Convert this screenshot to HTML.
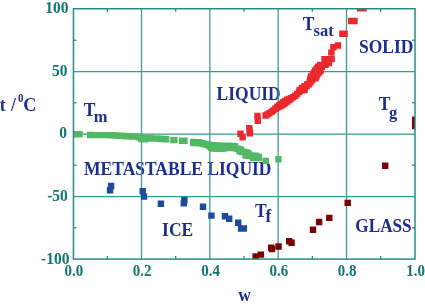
<!DOCTYPE html>
<html><head><meta charset="utf-8"><style>
html,body{margin:0;padding:0;background:#fff;width:425px;height:305px;overflow:hidden}
svg{display:block}
</style></head><body>
<svg width="425" height="305" viewBox="0 0 425 305"><defs><clipPath id="c"><rect x="73.45" y="8.75" width="341.55" height="250.35"/></clipPath></defs><g opacity="0.999"><text transform="translate(83.80,116.20) scale(1,1.07)" font-family="Liberation Serif, serif" font-weight="bold" font-size="17.5" fill="#1c2d90" text-anchor="start">T</text><text transform="translate(93.70,121.60) scale(1,1.07)" font-family="Liberation Serif, serif" font-weight="bold" font-size="16.5" fill="#1c2d90" text-anchor="start">m</text><text transform="translate(216.60,99.50) scale(1,1.07)" font-family="Liberation Serif, serif" font-weight="bold" font-size="17.5" fill="#1c2d90" text-anchor="start">LIQUID</text><text transform="translate(302.70,29.80) scale(1,1.07)" font-family="Liberation Serif, serif" font-weight="bold" font-size="17.5" fill="#1c2d90" text-anchor="start">T</text><text transform="translate(313.50,35.50) scale(1,1.07)" font-family="Liberation Serif, serif" font-weight="bold" font-size="16.5" fill="#1c2d90" text-anchor="start">sat</text><text transform="translate(358.90,53.10) scale(1,1.07)" font-family="Liberation Serif, serif" font-weight="bold" font-size="17.5" fill="#1c2d90" text-anchor="start">SOLID</text><text transform="translate(378.70,109.70) scale(1,1.07)" font-family="Liberation Serif, serif" font-weight="bold" font-size="17.5" fill="#1c2d90" text-anchor="start">T</text><text transform="translate(388.90,117.80) scale(1,1.07)" font-family="Liberation Serif, serif" font-weight="bold" font-size="16.5" fill="#1c2d90" text-anchor="start">g</text><text transform="translate(84.10,175.40) scale(1,1.07)" font-family="Liberation Serif, serif" font-weight="bold" font-size="17.5" fill="#1c2d90" text-anchor="start">METASTABLE LIQUID</text><text transform="translate(162.10,236.00) scale(1,1.07)" font-family="Liberation Serif, serif" font-weight="bold" font-size="17.5" fill="#1c2d90" text-anchor="start">ICE</text><text transform="translate(254.90,216.50) scale(1,1.07)" font-family="Liberation Serif, serif" font-weight="bold" font-size="17.5" fill="#1c2d90" text-anchor="start">T</text><text transform="translate(265.50,221.60) scale(1,1.07)" font-family="Liberation Serif, serif" font-weight="bold" font-size="17.5" fill="#1c2d90" text-anchor="start">f</text><text transform="translate(355.30,232.10) scale(1,1.07)" font-family="Liberation Serif, serif" font-weight="bold" font-size="17.2" fill="#1c2d90" text-anchor="start">GLASS</text><text transform="translate(238.20,300.50) scale(1,1.07)" font-family="Liberation Serif, serif" font-weight="bold" font-size="17.5" fill="#1c2d90" text-anchor="start">w</text><text transform="translate(-0.20,111.20) scale(1,1.07)" font-family="Liberation Serif, serif" font-weight="bold" font-size="17.5" fill="#1c2d90" text-anchor="start">t</text><text transform="translate(10.90,111.20) scale(1,1.07)" font-family="Liberation Serif, serif" font-weight="bold" font-size="17.5" fill="#1c2d90" text-anchor="start">/</text><text transform="translate(18.10,102.30) scale(1,1.07)" font-family="Liberation Serif, serif" font-weight="bold" font-size="11" fill="#1c2d90" text-anchor="start">0</text><text transform="translate(23.30,111.40) scale(1,1.07)" font-family="Liberation Serif, serif" font-weight="bold" font-size="18.2" fill="#1c2d90" text-anchor="start">C</text></g><g stroke="#3a9894" stroke-width="1.25"><line x1="141.50" y1="8.75" x2="141.50" y2="259.10"/><line x1="209.84" y1="8.75" x2="209.84" y2="259.10"/><line x1="278.17" y1="8.75" x2="278.17" y2="259.10"/><line x1="346.51" y1="8.75" x2="346.51" y2="259.10"/><line x1="73.45" y1="71.50" x2="415.00" y2="71.50"/><line x1="73.45" y1="134.00" x2="415.00" y2="134.00"/><line x1="73.45" y1="196.50" x2="415.00" y2="196.50"/></g><g clip-path="url(#c)"><path fill="#52b863" d="M73.40 131.00h6.4v6.4h-6.4zM76.30 131.00h6.4v6.4h-6.4zM87.00 131.80h6.4v6.4h-6.4zM87.00 131.80h6.4v6.4h-6.4zM88.49 131.85h6.4v6.4h-6.4zM88.49 131.85h6.4v6.4h-6.4zM89.98 131.89h6.4v6.4h-6.4zM89.98 131.89h6.4v6.4h-6.4zM91.47 131.90h6.4v6.4h-6.4zM91.47 131.90h6.4v6.4h-6.4zM92.96 131.90h6.4v6.4h-6.4zM92.96 131.90h6.4v6.4h-6.4zM94.45 131.91h6.4v6.4h-6.4zM94.45 131.91h6.4v6.4h-6.4zM95.94 131.92h6.4v6.4h-6.4zM95.94 131.92h6.4v6.4h-6.4zM97.43 131.93h6.4v6.4h-6.4zM97.43 131.93h6.4v6.4h-6.4zM98.92 131.94h6.4v6.4h-6.4zM98.92 131.94h6.4v6.4h-6.4zM100.41 131.95h6.4v6.4h-6.4zM100.41 131.95h6.4v6.4h-6.4zM101.90 131.96h6.4v6.4h-6.4zM101.90 131.96h6.4v6.4h-6.4zM103.39 131.97h6.4v6.4h-6.4zM103.39 131.97h6.4v6.4h-6.4zM104.88 131.89h6.4v6.4h-6.4zM104.88 131.89h6.4v6.4h-6.4zM106.37 131.89h6.4v6.4h-6.4zM106.37 131.89h6.4v6.4h-6.4zM107.86 132.00h6.4v6.4h-6.4zM107.86 132.00h6.4v6.4h-6.4zM109.35 132.11h6.4v6.4h-6.4zM109.35 132.11h6.4v6.4h-6.4zM110.84 132.20h6.4v6.4h-6.4zM110.84 132.20h6.4v6.4h-6.4zM112.33 132.26h6.4v6.4h-6.4zM112.33 132.26h6.4v6.4h-6.4zM113.82 132.32h6.4v6.4h-6.4zM113.82 132.32h6.4v6.4h-6.4zM115.31 132.42h6.4v6.4h-6.4zM115.31 132.42h6.4v6.4h-6.4zM116.80 132.52h6.4v6.4h-6.4zM116.80 132.52h6.4v6.4h-6.4zM118.29 132.62h6.4v6.4h-6.4zM118.29 132.62h6.4v6.4h-6.4zM119.78 132.72h6.4v6.4h-6.4zM119.78 132.72h6.4v6.4h-6.4zM121.27 132.82h6.4v6.4h-6.4zM121.27 132.82h6.4v6.4h-6.4zM122.76 132.92h6.4v6.4h-6.4zM122.76 132.92h6.4v6.4h-6.4zM124.25 133.02h6.4v6.4h-6.4zM124.25 133.02h6.4v6.4h-6.4zM125.75 133.11h6.4v6.4h-6.4zM125.75 133.11h6.4v6.4h-6.4zM127.24 133.18h6.4v6.4h-6.4zM127.24 133.18h6.4v6.4h-6.4zM128.73 133.26h6.4v6.4h-6.4zM128.73 133.26h6.4v6.4h-6.4zM130.22 133.32h6.4v6.4h-6.4zM130.22 133.32h6.4v6.4h-6.4zM131.71 133.38h6.4v6.4h-6.4zM131.71 133.38h6.4v6.4h-6.4zM133.20 133.44h6.4v6.4h-6.4zM133.20 133.44h6.4v6.4h-6.4zM134.69 133.50h6.4v6.4h-6.4zM134.69 133.50h6.4v6.4h-6.4zM136.18 133.79h6.4v6.4h-6.4zM136.18 134.00h6.4v6.4h-6.4zM137.67 134.01h6.4v6.4h-6.4zM137.67 135.34h6.4v6.4h-6.4zM139.16 134.34h6.4v6.4h-6.4zM139.16 136.00h6.4v6.4h-6.4zM140.65 134.66h6.4v6.4h-6.4zM140.65 136.00h6.4v6.4h-6.4zM142.14 134.99h6.4v6.4h-6.4zM142.14 136.00h6.4v6.4h-6.4zM143.63 135.00h6.4v6.4h-6.4zM143.63 135.00h6.4v6.4h-6.4zM145.12 135.05h6.4v6.4h-6.4zM145.12 135.05h6.4v6.4h-6.4zM146.61 135.09h6.4v6.4h-6.4zM146.61 135.09h6.4v6.4h-6.4zM148.10 135.16h6.4v6.4h-6.4zM148.10 135.16h6.4v6.4h-6.4zM149.59 135.23h6.4v6.4h-6.4zM149.59 135.23h6.4v6.4h-6.4zM151.08 135.28h6.4v6.4h-6.4zM151.08 135.28h6.4v6.4h-6.4zM152.57 135.31h6.4v6.4h-6.4zM152.57 135.31h6.4v6.4h-6.4zM154.06 135.37h6.4v6.4h-6.4zM154.06 135.37h6.4v6.4h-6.4zM155.55 135.46h6.4v6.4h-6.4zM155.55 135.46h6.4v6.4h-6.4zM157.04 135.57h6.4v6.4h-6.4zM157.04 135.57h6.4v6.4h-6.4zM158.53 135.68h6.4v6.4h-6.4zM158.53 135.68h6.4v6.4h-6.4zM160.02 135.79h6.4v6.4h-6.4zM160.02 135.79h6.4v6.4h-6.4zM161.51 135.90h6.4v6.4h-6.4zM161.51 135.90h6.4v6.4h-6.4zM163.00 136.06h6.4v6.4h-6.4zM163.00 136.06h6.4v6.4h-6.4zM170.20 136.88h6.4v6.4h-6.4zM170.20 136.88h6.4v6.4h-6.4zM171.20 136.93h6.4v6.4h-6.4zM171.20 136.93h6.4v6.4h-6.4zM178.80 137.41h6.4v6.4h-6.4zM178.80 137.70h6.4v6.4h-6.4zM179.60 137.44h6.4v6.4h-6.4zM179.60 137.70h6.4v6.4h-6.4zM180.40 137.46h6.4v6.4h-6.4zM180.40 137.70h6.4v6.4h-6.4zM181.20 137.47h6.4v6.4h-6.4zM181.20 137.70h6.4v6.4h-6.4zM190.00 138.79h6.4v6.4h-6.4zM190.00 139.68h6.4v6.4h-6.4zM191.50 138.88h6.4v6.4h-6.4zM191.50 139.75h6.4v6.4h-6.4zM192.99 138.97h6.4v6.4h-6.4zM192.99 139.83h6.4v6.4h-6.4zM194.49 139.06h6.4v6.4h-6.4zM194.49 139.90h6.4v6.4h-6.4zM195.98 139.30h6.4v6.4h-6.4zM195.98 139.98h6.4v6.4h-6.4zM197.48 139.69h6.4v6.4h-6.4zM197.48 140.05h6.4v6.4h-6.4zM198.97 140.07h6.4v6.4h-6.4zM198.97 140.25h6.4v6.4h-6.4zM200.47 140.46h6.4v6.4h-6.4zM200.47 140.63h6.4v6.4h-6.4zM201.96 140.84h6.4v6.4h-6.4zM201.96 141.02h6.4v6.4h-6.4zM203.46 141.19h6.4v6.4h-6.4zM203.46 141.40h6.4v6.4h-6.4zM204.95 141.54h6.4v6.4h-6.4zM204.95 141.79h6.4v6.4h-6.4zM206.45 141.70h6.4v6.4h-6.4zM206.45 143.21h6.4v6.4h-6.4zM207.95 141.82h6.4v6.4h-6.4zM207.95 144.66h6.4v6.4h-6.4zM209.44 141.94h6.4v6.4h-6.4zM209.44 143.56h6.4v6.4h-6.4zM209.44 145.18h6.4v6.4h-6.4zM210.94 142.06h6.4v6.4h-6.4zM210.94 143.68h6.4v6.4h-6.4zM210.94 145.30h6.4v6.4h-6.4zM212.43 142.18h6.4v6.4h-6.4zM212.43 143.80h6.4v6.4h-6.4zM212.43 145.42h6.4v6.4h-6.4zM213.93 142.30h6.4v6.4h-6.4zM213.93 143.92h6.4v6.4h-6.4zM213.93 145.54h6.4v6.4h-6.4zM215.42 142.40h6.4v6.4h-6.4zM215.42 144.03h6.4v6.4h-6.4zM215.42 145.66h6.4v6.4h-6.4zM216.92 142.42h6.4v6.4h-6.4zM216.92 144.05h6.4v6.4h-6.4zM216.92 145.68h6.4v6.4h-6.4zM218.41 142.43h6.4v6.4h-6.4zM218.41 143.96h6.4v6.4h-6.4zM218.41 145.48h6.4v6.4h-6.4zM219.91 142.45h6.4v6.4h-6.4zM219.91 145.29h6.4v6.4h-6.4zM221.40 142.46h6.4v6.4h-6.4zM221.40 145.09h6.4v6.4h-6.4zM222.90 142.48h6.4v6.4h-6.4zM222.90 144.90h6.4v6.4h-6.4zM224.40 142.49h6.4v6.4h-6.4zM224.40 144.70h6.4v6.4h-6.4zM225.89 142.55h6.4v6.4h-6.4zM225.89 144.65h6.4v6.4h-6.4zM227.39 142.65h6.4v6.4h-6.4zM227.39 144.64h6.4v6.4h-6.4zM228.88 142.75h6.4v6.4h-6.4zM228.88 144.63h6.4v6.4h-6.4zM230.38 142.85h6.4v6.4h-6.4zM230.38 144.73h6.4v6.4h-6.4zM231.87 142.94h6.4v6.4h-6.4zM231.87 144.83h6.4v6.4h-6.4zM233.37 145.38h6.4v6.4h-6.4zM233.37 145.38h6.4v6.4h-6.4zM234.86 145.53h6.4v6.4h-6.4zM234.86 145.53h6.4v6.4h-6.4zM236.36 146.24h6.4v6.4h-6.4zM236.36 148.13h6.4v6.4h-6.4zM237.85 146.45h6.4v6.4h-6.4zM237.85 148.40h6.4v6.4h-6.4zM239.35 148.73h6.4v6.4h-6.4zM239.35 148.73h6.4v6.4h-6.4zM240.85 148.78h6.4v6.4h-6.4zM240.85 148.78h6.4v6.4h-6.4zM242.34 149.28h6.4v6.4h-6.4zM242.34 150.81h6.4v6.4h-6.4zM242.34 152.33h6.4v6.4h-6.4zM243.84 149.40h6.4v6.4h-6.4zM243.84 150.92h6.4v6.4h-6.4zM243.84 152.45h6.4v6.4h-6.4zM245.33 150.21h6.4v6.4h-6.4zM245.33 152.56h6.4v6.4h-6.4zM246.83 152.25h6.4v6.4h-6.4zM246.83 152.68h6.4v6.4h-6.4zM248.32 152.31h6.4v6.4h-6.4zM248.32 152.79h6.4v6.4h-6.4zM249.82 152.38h6.4v6.4h-6.4zM249.82 154.80h6.4v6.4h-6.4zM251.31 152.44h6.4v6.4h-6.4zM251.31 154.80h6.4v6.4h-6.4zM252.81 152.72h6.4v6.4h-6.4zM252.81 154.80h6.4v6.4h-6.4zM254.30 153.64h6.4v6.4h-6.4zM254.30 154.80h6.4v6.4h-6.4zM255.80 153.82h6.4v6.4h-6.4zM255.80 154.80h6.4v6.4h-6.4zM262.60 157.70h6.4v6.4h-6.4zM275.20 156.10h6.4v6.4h-6.4z"/><path fill="#eb282d" d="M237.30 130.60h6.4v6.4h-6.4zM239.40 134.10h6.4v6.4h-6.4zM246.10 125.10h6.4v6.4h-6.4zM246.80 130.00h6.4v6.4h-6.4zM246.40 127.30h6.4v6.4h-6.4zM254.30 112.80h6.4v6.4h-6.4zM254.60 117.60h6.4v6.4h-6.4zM262.40 112.29h6.4v6.4h-6.4zM262.40 112.29h6.4v6.4h-6.4zM264.37 111.18h6.4v6.4h-6.4zM264.37 111.18h6.4v6.4h-6.4zM266.34 109.90h6.4v6.4h-6.4zM266.34 109.90h6.4v6.4h-6.4zM268.31 108.59h6.4v6.4h-6.4zM268.31 108.59h6.4v6.4h-6.4zM270.27 107.17h6.4v6.4h-6.4zM270.27 107.17h6.4v6.4h-6.4zM272.24 105.36h6.4v6.4h-6.4zM272.24 105.66h6.4v6.4h-6.4zM274.21 103.44h6.4v6.4h-6.4zM274.21 104.39h6.4v6.4h-6.4zM276.18 101.98h6.4v6.4h-6.4zM276.18 103.39h6.4v6.4h-6.4zM278.15 100.51h6.4v6.4h-6.4zM278.15 102.39h6.4v6.4h-6.4zM280.12 99.06h6.4v6.4h-6.4zM280.12 101.29h6.4v6.4h-6.4zM282.08 97.74h6.4v6.4h-6.4zM282.08 99.82h6.4v6.4h-6.4zM284.05 96.43h6.4v6.4h-6.4zM284.05 98.35h6.4v6.4h-6.4zM286.02 95.65h6.4v6.4h-6.4zM286.02 96.89h6.4v6.4h-6.4zM287.99 94.98h6.4v6.4h-6.4zM287.99 95.42h6.4v6.4h-6.4zM289.96 93.94h6.4v6.4h-6.4zM289.96 93.95h6.4v6.4h-6.4zM291.93 92.50h6.4v6.4h-6.4zM291.93 92.50h6.4v6.4h-6.4zM293.89 90.73h6.4v6.4h-6.4zM293.89 90.73h6.4v6.4h-6.4zM295.86 88.74h6.4v6.4h-6.4zM295.86 88.74h6.4v6.4h-6.4zM297.83 87.16h6.4v6.4h-6.4zM297.83 87.31h6.4v6.4h-6.4zM299.80 85.16h6.4v6.4h-6.4zM299.80 86.30h6.4v6.4h-6.4zM321.30 55.90h6.4v6.4h-6.4zM323.67 55.90h6.4v6.4h-6.4zM326.03 55.90h6.4v6.4h-6.4zM328.40 55.90h6.4v6.4h-6.4zM321.30 57.83h6.4v6.4h-6.4zM323.50 57.83h6.4v6.4h-6.4zM325.70 57.83h6.4v6.4h-6.4zM321.30 59.76h6.4v6.4h-6.4zM323.50 59.76h6.4v6.4h-6.4zM325.70 59.76h6.4v6.4h-6.4zM316.96 61.69h6.4v6.4h-6.4zM319.63 61.69h6.4v6.4h-6.4zM322.30 61.69h6.4v6.4h-6.4zM314.96 63.62h6.4v6.4h-6.4zM316.80 63.62h6.4v6.4h-6.4zM318.63 63.62h6.4v6.4h-6.4zM313.36 65.56h6.4v6.4h-6.4zM315.38 65.56h6.4v6.4h-6.4zM317.40 65.56h6.4v6.4h-6.4zM312.00 67.49h6.4v6.4h-6.4zM314.70 67.49h6.4v6.4h-6.4zM317.40 67.49h6.4v6.4h-6.4zM310.90 69.42h6.4v6.4h-6.4zM313.32 69.42h6.4v6.4h-6.4zM315.75 69.42h6.4v6.4h-6.4zM309.65 71.35h6.4v6.4h-6.4zM311.84 71.35h6.4v6.4h-6.4zM314.04 71.35h6.4v6.4h-6.4zM307.72 73.28h6.4v6.4h-6.4zM310.40 73.28h6.4v6.4h-6.4zM313.09 73.28h6.4v6.4h-6.4zM307.25 75.21h6.4v6.4h-6.4zM309.70 75.21h6.4v6.4h-6.4zM312.14 75.21h6.4v6.4h-6.4zM306.88 77.14h6.4v6.4h-6.4zM308.89 77.14h6.4v6.4h-6.4zM306.50 79.08h6.4v6.4h-6.4zM307.13 79.08h6.4v6.4h-6.4zM304.10 81.01h6.4v6.4h-6.4zM305.86 81.01h6.4v6.4h-6.4zM301.33 82.94h6.4v6.4h-6.4zM303.56 82.94h6.4v6.4h-6.4zM298.79 84.87h6.4v6.4h-6.4zM301.53 84.87h6.4v6.4h-6.4zM296.51 86.80h6.4v6.4h-6.4zM298.86 86.80h6.4v6.4h-6.4zM301.20 86.80h6.4v6.4h-6.4zM328.20 49.40h6.4v6.4h-6.4zM330.20 44.00h6.4v6.4h-6.4zM334.80 42.30h6.4v6.4h-6.4zM339.20 30.60h6.4v6.4h-6.4zM341.40 30.60h6.4v6.4h-6.4zM348.00 17.80h6.4v6.4h-6.4zM351.30 17.80h6.4v6.4h-6.4zM357.00 5.20h6.4v6.4h-6.4zM360.40 5.20h6.4v6.4h-6.4z"/><path fill="#1e4ba0" d="M107.90 182.80h6.4v6.4h-6.4zM106.90 187.00h6.4v6.4h-6.4zM139.50 188.00h6.4v6.4h-6.4zM140.80 193.40h6.4v6.4h-6.4zM157.70 200.50h6.4v6.4h-6.4zM181.20 197.10h6.4v6.4h-6.4zM180.60 200.10h6.4v6.4h-6.4zM199.80 203.60h6.4v6.4h-6.4zM208.20 212.40h6.4v6.4h-6.4zM221.80 213.00h6.4v6.4h-6.4zM226.00 215.60h6.4v6.4h-6.4zM235.00 219.50h6.4v6.4h-6.4zM237.90 225.30h6.4v6.4h-6.4zM240.70 225.30h6.4v6.4h-6.4z"/><path fill="#780505" d="M252.40 253.30h6.4v6.4h-6.4zM257.70 251.40h6.4v6.4h-6.4zM268.00 244.60h6.4v6.4h-6.4zM268.80 245.80h6.4v6.4h-6.4zM275.40 243.30h6.4v6.4h-6.4zM286.00 238.10h6.4v6.4h-6.4zM288.40 239.50h6.4v6.4h-6.4zM309.80 226.60h6.4v6.4h-6.4zM315.90 218.80h6.4v6.4h-6.4zM326.10 214.70h6.4v6.4h-6.4zM344.50 199.70h6.4v6.4h-6.4zM382.00 162.50h6.4v6.4h-6.4zM412.00 116.40h6.4v6.4h-6.4zM412.00 122.80h6.4v6.4h-6.4z"/></g><g stroke="#2a8a86" stroke-width="1.3"><line x1="107.34" y1="259.10" x2="107.34" y2="256.10"/><line x1="107.34" y1="8.75" x2="107.34" y2="11.75"/><line x1="175.67" y1="259.10" x2="175.67" y2="256.10"/><line x1="175.67" y1="8.75" x2="175.67" y2="11.75"/><line x1="244.00" y1="259.10" x2="244.00" y2="256.10"/><line x1="244.00" y1="8.75" x2="244.00" y2="11.75"/><line x1="312.34" y1="259.10" x2="312.34" y2="256.10"/><line x1="312.34" y1="8.75" x2="312.34" y2="11.75"/><line x1="380.67" y1="259.10" x2="380.67" y2="256.10"/><line x1="380.67" y1="8.75" x2="380.67" y2="11.75"/><line x1="73.45" y1="40.25" x2="76.45" y2="40.25"/><line x1="415.00" y1="40.25" x2="412.00" y2="40.25"/><line x1="73.45" y1="102.75" x2="76.45" y2="102.75"/><line x1="415.00" y1="102.75" x2="412.00" y2="102.75"/><line x1="73.45" y1="165.25" x2="76.45" y2="165.25"/><line x1="415.00" y1="165.25" x2="412.00" y2="165.25"/><line x1="73.45" y1="227.75" x2="76.45" y2="227.75"/><line x1="415.00" y1="227.75" x2="412.00" y2="227.75"/></g><rect x="73.45" y="8.75" width="341.55" height="250.35" fill="none" stroke="#2a8a86" stroke-width="1.5"/><g opacity="0.999"><text transform="translate(73.87,275.70) scale(1,1.07)" font-family="Liberation Serif, serif" font-weight="bold" font-size="15" fill="#117572" text-anchor="middle">0.0</text><text transform="translate(142.20,275.70) scale(1,1.07)" font-family="Liberation Serif, serif" font-weight="bold" font-size="15" fill="#117572" text-anchor="middle">0.2</text><text transform="translate(210.54,275.70) scale(1,1.07)" font-family="Liberation Serif, serif" font-weight="bold" font-size="15" fill="#117572" text-anchor="middle">0.4</text><text transform="translate(278.87,275.70) scale(1,1.07)" font-family="Liberation Serif, serif" font-weight="bold" font-size="15" fill="#117572" text-anchor="middle">0.6</text><text transform="translate(347.21,275.70) scale(1,1.07)" font-family="Liberation Serif, serif" font-weight="bold" font-size="15" fill="#117572" text-anchor="middle">0.8</text><text transform="translate(415.54,275.70) scale(1,1.07)" font-family="Liberation Serif, serif" font-weight="bold" font-size="15" fill="#117572" text-anchor="middle">1.0</text><text transform="translate(68.50,13.20) scale(1,1.07)" font-family="Liberation Serif, serif" font-weight="bold" font-size="15.5" fill="#117572" text-anchor="end">100</text><text transform="translate(67.60,75.50) scale(1,1.07)" font-family="Liberation Serif, serif" font-weight="bold" font-size="15.5" fill="#117572" text-anchor="end">50</text><text transform="translate(67.00,138.30) scale(1,1.07)" font-family="Liberation Serif, serif" font-weight="bold" font-size="15.5" fill="#117572" text-anchor="end">0</text><text transform="translate(67.80,200.50) scale(1,1.07)" font-family="Liberation Serif, serif" font-weight="bold" font-size="15.5" fill="#117572" text-anchor="end">-50</text><text transform="translate(69.40,263.60) scale(1,1.07)" font-family="Liberation Serif, serif" font-weight="bold" font-size="15.5" fill="#117572" text-anchor="end">-100</text></g></svg>
</body></html>
